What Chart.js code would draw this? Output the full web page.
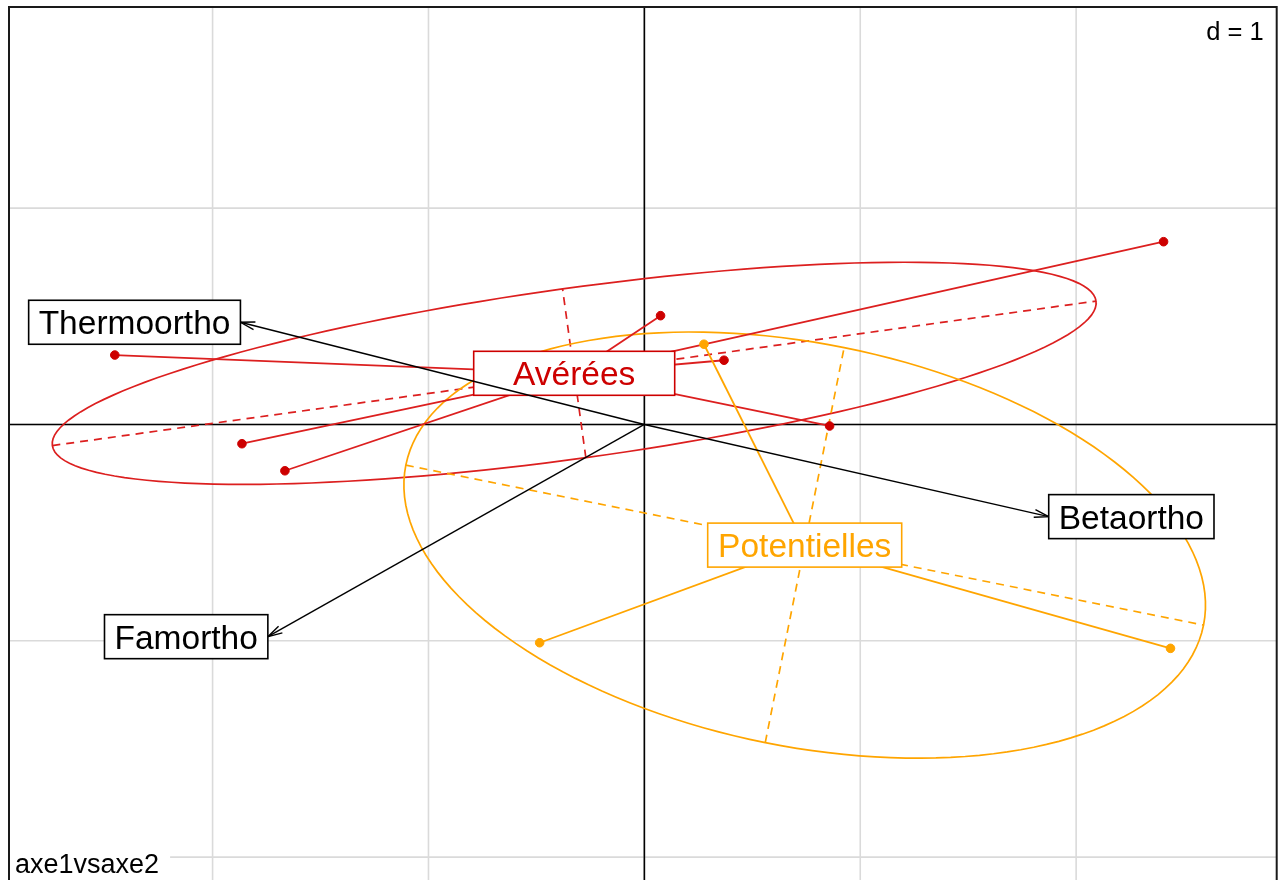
<!DOCTYPE html>
<html>
<head>
<meta charset="utf-8">
<script src="https://cdn.jsdelivr.net/npm/chart.js@4.4.1/dist/chart.umd.min.js"></script>
<style>
  html, body { margin: 0; padding: 0; overflow: hidden; background: #fff; }
  canvas { display: block; }
</style>
</head>
<body>
<canvas id="scl" width="1282" height="900"></canvas>
<script>
// class scores (axe1 / axe2)
const classNames = ['Avérées', 'Potentielles'];
const averX = [-2.453, -1.864, -1.665, 0.075, 0.369, 0.858, 2.405];
const averY = [0.321, -0.089, -0.214, 0.503, 0.297, -0.007, 0.845];
const potX = [0.276, -0.485, 2.437];
const potY = [0.371, -1.009, -1.035];

// variable arrows
const varNames = ['Thermoortho', 'Betaortho', 'Famortho'];
const varX = [-1.871, 1.873, -1.744];
const varY = [0.4725, -0.426, -0.981];

const gridTicks = [-2, -1, 0, 1, 2];   // d = 1
const subTitle = 'axe1vsaxe2';
const gridLabel = 'd = 1';

const classColors = ['#cd0000', '#ffa500'];
const classLineColors = ['#dc1f1f', '#ffa500'];
const classBoxWidths = [201, 194];
const cellipse = 1.5;

function classStats(xs, ys) {
  const n = xs.length;
  const mx = xs.reduce((a, b) => a + b, 0) / n;
  const my = ys.reduce((a, b) => a + b, 0) / n;
  let vx = 0, vy = 0, cxy = 0;
  for (let i = 0; i < n; i++) {
    vx += (xs[i] - mx) ** 2;
    vy += (ys[i] - my) ** 2;
    cxy += (xs[i] - mx) * (ys[i] - my);
  }
  vx /= n; vy /= n; cxy /= n;
  const half = (vx + vy) / 2;
  const r = Math.sqrt(((vx - vy) / 2) ** 2 + cxy ** 2);
  const a = cellipse * Math.sqrt(half + r);
  const b = cellipse * Math.sqrt(Math.max(half - r, 0));
  const th = 0.5 * Math.atan2(2 * cxy, vx - vy);
  const u = [Math.cos(th), Math.sin(th)];
  const v = [-Math.sin(th), Math.cos(th)];
  const ell = [];
  for (let k = 0; k <= 160; k++) {
    const t = (k / 160) * 2 * Math.PI;
    ell.push({
      x: mx + a * Math.cos(t) * u[0] + b * Math.sin(t) * v[0],
      y: my + a * Math.cos(t) * u[1] + b * Math.sin(t) * v[1]
    });
  }
  const axis1 = [{ x: mx - a * u[0], y: my - a * u[1] }, { x: mx + a * u[0], y: my + a * u[1] }];
  const axis2 = [{ x: mx - b * v[0], y: my - b * v[1] }, { x: mx + b * v[0], y: my + b * v[1] }];
  return { mx, my, ell, axis1, axis2 };
}

const groups = [[averX, averY], [potX, potY]];
const stats = groups.map(g => classStats(g[0], g[1]));

// datasets in drawing sequence (first = bottom)
const seq = [];
stats.forEach((s, g) => {
  const col = classLineColors[g];
  seq.push({ type: 'line', data: s.ell, borderColor: col, borderWidth: 1.7, pointRadius: 0, tension: 0, fill: false });
  seq.push({ type: 'line', data: s.axis1, borderColor: col, borderWidth: 1.7, borderDash: [8, 6], pointRadius: 0, fill: false });
  seq.push({ type: 'line', data: s.axis2, borderColor: col, borderWidth: 1.7, borderDash: [8, 6], pointRadius: 0, fill: false });
});
stats.forEach((s, g) => {
  const xs = groups[g][0], ys = groups[g][1];
  xs.forEach((x, i) => {
    seq.push({ type: 'line', data: [{ x: s.mx, y: s.my }, { x: x, y: ys[i] }],
      borderColor: classLineColors[g], borderWidth: 1.8, pointRadius: 0, fill: false });
  });
});
stats.forEach((s, g) => {
  const xs = groups[g][0], ys = groups[g][1];
  seq.push({ type: 'scatter', data: xs.map((x, i) => ({ x: x, y: ys[i] })),
    backgroundColor: classColors[g], borderColor: classColors[g], pointRadius: 4.3, pointHoverRadius: 4.3 });
});
seq.forEach((d, i) => { d.order = seq.length - i; });

const FONT = '"Liberation Sans", Arial, sans-serif';

function boxLabel(ctx, text, cx, cy, w, h, color, fontPx) {
  ctx.save();
  ctx.fillStyle = '#fff';
  ctx.fillRect(cx - w / 2, cy - h / 2, w, h);
  ctx.strokeStyle = color;
  ctx.lineWidth = 1.6;
  ctx.strokeRect(cx - w / 2, cy - h / 2, w, h);
  ctx.fillStyle = color;
  ctx.font = fontPx + 'px ' + FONT;
  ctx.textAlign = 'center';
  ctx.textBaseline = 'alphabetic';
  ctx.fillText(text, cx, cy + fontPx * 0.716 / 2);
  ctx.restore();
}

const decor = {
  id: 'decor',
  beforeDatasetsDraw(chart) {
    const { ctx, chartArea: ca, scales: { x, y } } = chart;
    ctx.save();
    ctx.strokeStyle = '#dadada';
    ctx.lineWidth = 1.6;
    gridTicks.forEach(t => {
      if (t > x.min && t < x.max) {
        const px = x.getPixelForValue(t);
        ctx.beginPath(); ctx.moveTo(px, ca.top); ctx.lineTo(px, ca.bottom); ctx.stroke();
      }
      if (t > y.min && t < y.max) {
        const py = y.getPixelForValue(t);
        ctx.beginPath(); ctx.moveTo(ca.left, py); ctx.lineTo(ca.right, py); ctx.stroke();
      }
    });
    ctx.strokeStyle = '#000';
    ctx.lineWidth = 1.6;
    const x0 = x.getPixelForValue(0), y0 = y.getPixelForValue(0);
    ctx.beginPath(); ctx.moveTo(x0, ca.top); ctx.lineTo(x0, ca.bottom); ctx.stroke();
    ctx.beginPath(); ctx.moveTo(ca.left, y0); ctx.lineTo(ca.right, y0); ctx.stroke();
    ctx.restore();
  },
  afterDatasetsDraw(chart) {
    const { ctx, chartArea: ca, scales: { x, y } } = chart;
    // class labels
    stats.forEach((s, g) => {
      boxLabel(ctx, classNames[g], x.getPixelForValue(s.mx), y.getPixelForValue(s.my),
        classBoxWidths[g], 44, classColors[g], 33.5);
    });
    // arrows
    const x0 = x.getPixelForValue(0), y0 = y.getPixelForValue(0);
    ctx.save();
    ctx.strokeStyle = '#000';
    ctx.lineWidth = 1.4;
    varX.forEach((vx, i) => {
      const px = x.getPixelForValue(vx), py = y.getPixelForValue(varY[i]);
      ctx.beginPath(); ctx.moveTo(x0, y0); ctx.lineTo(px, py); ctx.stroke();
      const ang = Math.atan2(py - y0, px - x0);
      const L = 15, A = 15 * Math.PI / 180;
      ctx.beginPath();
      ctx.moveTo(px - L * Math.cos(ang - A), py - L * Math.sin(ang - A));
      ctx.lineTo(px, py);
      ctx.lineTo(px - L * Math.cos(ang + A), py - L * Math.sin(ang + A));
      ctx.stroke();
    });
    ctx.restore();
    // variable labels, placed outward from the tip
    ctx.save();
    ctx.font = '33.5px ' + FONT;
    varNames.forEach((name, i) => {
      const px = x.getPixelForValue(varX[i]), py = y.getPixelForValue(varY[i]);
      const w = ctx.measureText(name).width + 20;
      const cx = varX[i] < 0 ? px - w / 2 : px + w / 2;
      boxLabel(ctx, name, cx, py, w, 44, '#000', 33.5);
    });
    ctx.restore();
    // sub title and grid size
    ctx.save();
    ctx.font = '27px ' + FONT;
    const sw = ctx.measureText(subTitle).width;
    ctx.fillStyle = '#fff';
    ctx.fillRect(ca.left, ca.bottom - 45, sw + 17, 45);
    ctx.fillStyle = '#000';
    ctx.textBaseline = 'alphabetic';
    ctx.textAlign = 'left';
    ctx.fillText(subTitle, ca.left + 6, 873);
    ctx.font = '25.5px ' + FONT;
    ctx.textAlign = 'right';
    ctx.fillText(gridLabel, ca.right - 13, ca.top + 33);
    // frame
    ctx.strokeStyle = '#1a1a1a';
    ctx.lineWidth = 2;
    ctx.strokeRect(ca.left, ca.top, ca.right - ca.left, ca.bottom - ca.top);
    ctx.restore();
  }
};

new Chart(document.getElementById('scl'), {
  type: 'scatter',
  data: { datasets: seq },
  options: {
    responsive: false,
    animation: false,
    devicePixelRatio: 1,
    layout: { padding: { left: 9, top: 7, right: 3, bottom: 7 } },
    plugins: { legend: { display: false }, tooltip: { enabled: false } },
    events: [],
    scales: {
      x: { type: 'linear', min: -2.943, max: 2.929, display: false },
      y: { type: 'linear', min: -2.166, max: 1.930, display: false }
    }
  },
  plugins: [decor]
});
</script>
</body>
</html>
